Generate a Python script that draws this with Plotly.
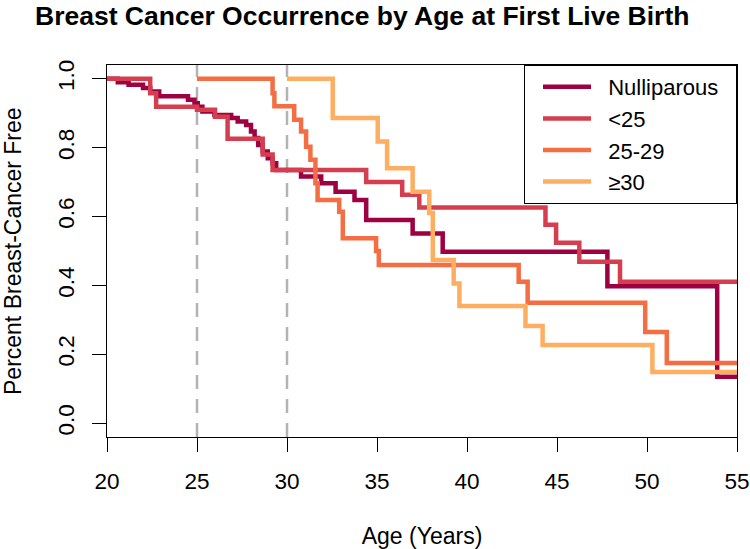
import plotly.graph_objects as go

# Kaplan-Meier style step curves (age at event, fraction still cancer free)
null_age = [20, 20.6, 21.2, 22.0, 22.4, 22.9, 24.5, 24.86, 25.04, 25.3, 25.97, 26.9, 27.26,
            27.73, 28.0, 28.2, 28.4, 28.65, 28.93, 29.2, 29.4, 30.78, 31.9, 32.7, 33.75,
            34.4, 36.98, 38.65, 47.8, 53.9, 55]
null_surv = [1.0, 0.99, 0.983, 0.973, 0.963, 0.949, 0.939, 0.929, 0.919, 0.905, 0.895, 0.886,
             0.876, 0.866, 0.847, 0.828, 0.808, 0.789, 0.769, 0.755, 0.735, 0.716, 0.697,
             0.672, 0.648, 0.59, 0.551, 0.498, 0.398, 0.135, 0.135]

lt25_age = [20, 22.4, 22.73, 25.0, 26.0, 26.7, 28.65, 29.2, 34.4, 36.4, 37.35, 44.36,
            44.95, 46.24, 48.5, 55]
lt25_surv = [1.0, 0.958, 0.919, 0.91, 0.89, 0.826, 0.78, 0.735, 0.70, 0.663, 0.626, 0.576,
             0.524, 0.469, 0.411, 0.411]

mid_age = [25, 29.2, 29.3, 30.4, 30.78, 31.06, 31.3, 31.58, 31.7, 32.9, 33.1, 34.95, 35.1,
           42.87, 43.37, 49.9, 51.1, 55]
mid_surv = [1.0, 0.958, 0.92, 0.881, 0.847, 0.803, 0.765, 0.697, 0.648, 0.614, 0.537, 0.50,
            0.459, 0.411, 0.35, 0.265, 0.175, 0.175]

ge30_age = [30, 32.54, 35.04, 35.56, 36.98, 37.9, 38.1, 39.26, 39.58, 43.25, 44.2, 50.3, 55]
ge30_surv = [1.0, 0.886, 0.818, 0.74, 0.672, 0.61, 0.474, 0.406, 0.34, 0.282, 0.227, 0.149,
             0.149]

groups = ["Nulliparous", "<25", "25-29", "≥30"]
colors = ["#9E0142", "#D53E4F", "#F46D43", "#FDAE61"]
cutoff_ages = [25, 30]
x_ticks = [20, 25, 30, 35, 40, 45, 50, 55]
y_ticks = [0.0, 0.2, 0.4, 0.6, 0.8, 1.0]

FONT = "Liberation Sans, Arial, sans-serif"
PAD = "\u00a0\u00a0"  # a little air between legend swatch and label, like base R

fig = go.Figure()

for a in cutoff_ages:
    fig.add_vline(x=a, line=dict(color="#B3B3B3", width=2.5, dash="14px,10px"), layer="below")

series = [(null_age, null_surv), (lt25_age, lt25_surv), (mid_age, mid_surv), (ge30_age, ge30_surv)]
for (ages, surv), name, col in zip(series, groups, colors):
    fig.add_trace(go.Scatter(x=ages, y=surv, mode="lines", name=PAD + name + PAD,
                             line=dict(color=col, width=4.5, shape="hv")))

fig.update_layout(
    width=750, height=549,
    template="none",
    paper_bgcolor="white", plot_bgcolor="white",
    margin=dict(l=107, r=13, t=65, b=112),
    font=dict(family=FONT, size=22.5, color="black"),
    title=dict(text="Breast Cancer Occurrence by Age at First Live Birth",
               x=35 / 750, xanchor="left", xref="container",
               y=1 - 16 / 549, yanchor="middle", yref="container",
               font=dict(family=FONT, size=26.5, weight="bold", color="black")),
    legend=dict(x=1, y=1, xanchor="right", yanchor="top",
                bordercolor="black", borderwidth=1, bgcolor="white",
                font=dict(family=FONT, size=22), itemwidth=48, indentation=13),
    showlegend=True,
)

# y label placed by hand: plotly's standoff keeps it too close to the rotated ticks
fig.add_annotation(text="Percent Breast-Cancer Free", textangle=-90,
                   xref="paper", x=(13 - 107) / 630, xanchor="center",
                   yref="paper", y=0.5, yanchor="middle", showarrow=False,
                   font=dict(family=FONT, size=23, color="black"))

fig.update_xaxes(range=[20, 55], tickvals=x_ticks, ticks="outside", ticklen=14, tickwidth=1,
                 tickcolor="black", showline=True, linecolor="black", linewidth=1, mirror=True,
                 showgrid=False, zeroline=False, automargin=False, ticklabelstandoff=10,
                 title=dict(text="Age (Years)", standoff=34, font=dict(size=23)))
fig.update_yaxes(range=[-0.04, 1.04], tickvals=y_ticks, tickformat=".1f", tickangle=-90,
                 ticks="outside", ticklen=14, tickwidth=1, tickcolor="black",
                 showline=True, linecolor="black", linewidth=1, mirror=True,
                 showgrid=False, zeroline=False, automargin=False, ticklabelstandoff=9)

fig.write_html("out.html", config={"displayModeBar": False},
               post_script="document.body.style.margin='0px';")
